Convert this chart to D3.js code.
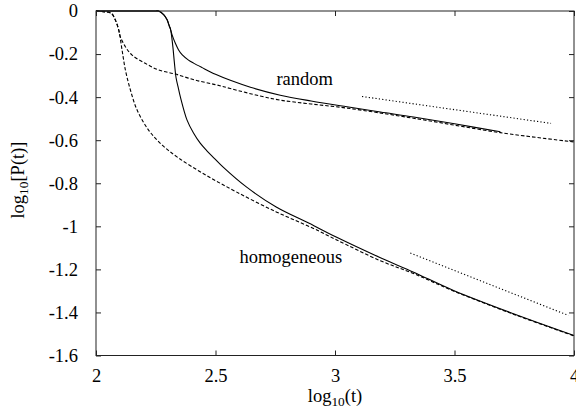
<!DOCTYPE html>
<html>
<head>
<meta charset="utf-8">
<script src="https://cdn.jsdelivr.net/npm/d3@7"></script>
<style>
  html, body { margin: 0; padding: 0; background: #fff; }
  svg { display: block; }
  text { font-family: "Liberation Serif", "Times New Roman", "DejaVu Serif", serif; fill: #000; }
</style>
</head>
<body>
<svg id="chart" width="576" height="413"></svg>
<script>
// ---- data (log10 t, log10 P(t)) ----
const xTicks = [2, 2.5, 3, 3.5, 4];
const xTickLabels = ["2", "2.5", "3", "3.5", "4"];
const yTicks = [0, -0.2, -0.4, -0.6, -0.8, -1, -1.2, -1.4, -1.6];
const yTickLabels = ["0", "-0.2", "-0.4", "-0.6", "-0.8", "-1", "-1.2", "-1.4", "-1.6"];

// random, solid
const randomSolidT = [2.0, 2.15, 2.25, 2.262, 2.283, 2.297, 2.307, 2.311, 2.318, 2.332, 2.345, 2.36, 2.387, 2.408, 2.444, 2.50, 2.562, 2.646, 2.771, 2.90, 3.05, 3.19, 3.329, 3.50, 3.692];
const randomSolidP = [0, 0, 0, 0, -0.017, -0.040, -0.071, -0.082, -0.110, -0.150, -0.180, -0.203, -0.228, -0.242, -0.263, -0.294, -0.322, -0.354, -0.391, -0.418, -0.445, -0.469, -0.492, -0.524, -0.561];

// homogeneous, solid
const homoSolidT = [2.0, 2.15, 2.25, 2.262, 2.283, 2.297, 2.307, 2.311, 2.315, 2.322, 2.328, 2.335, 2.345, 2.353, 2.381, 2.408, 2.436, 2.462, 2.495, 2.531, 2.629, 2.754, 2.892, 3.005, 3.19, 3.329, 3.496, 3.747, 4.0];
const homoSolidP = [0, 0, 0, 0, -0.017, -0.040, -0.071, -0.082, -0.105, -0.170, -0.240, -0.310, -0.360, -0.399, -0.507, -0.567, -0.614, -0.647, -0.684, -0.724, -0.817, -0.910, -0.986, -1.050, -1.146, -1.213, -1.298, -1.406, -1.507];

// random, dashed
const randomDashT = [2.0, 2.03, 2.064, 2.081, 2.095, 2.102, 2.123, 2.151, 2.206, 2.262, 2.332, 2.415, 2.50, 2.562, 2.687, 2.771, 2.90, 3.05, 3.328, 3.692, 4.0];
const randomDashP = [0, -0.003, -0.011, -0.042, -0.088, -0.120, -0.166, -0.205, -0.243, -0.274, -0.293, -0.321, -0.342, -0.360, -0.395, -0.414, -0.432, -0.451, -0.498, -0.565, -0.608];

// homogeneous, dashed
const homoDashT = [2.0, 2.03, 2.064, 2.081, 2.095, 2.109, 2.123, 2.144, 2.172, 2.22, 2.277, 2.346, 2.461, 2.587, 2.754, 2.908, 3.005, 3.19, 3.328, 3.495, 3.746, 4.0];
const homoDashP = [0, -0.003, -0.011, -0.042, -0.088, -0.181, -0.274, -0.367, -0.460, -0.553, -0.623, -0.683, -0.763, -0.840, -0.933, -1.009, -1.062, -1.160, -1.219, -1.300, -1.408, -1.509];

// dotted reference slopes
const randomRefT = [3.113, 3.904];
const randomRefP = [-0.397, -0.522];
const homoRefT = [3.315, 3.977];
const homoRefP = [-1.124, -1.414];

const labels = [
  { text: "random", t: 2.755, p: -0.345 },
  { text: "homogeneous", t: 2.6, p: -1.17 }
];

// ---- drawing ----
const svg = d3.select("#chart");
const mLeft = 96, mRight = 574, mTop = 11, mBottom = 355.5;
const x = d3.scaleLinear().domain([2, 4]).range([mLeft, mRight]);
const y = d3.scaleLinear().domain([-1.6, 0]).range([mBottom, mTop]);
const fs = 18.5;
const serif = '"Liberation Serif", "Times New Roman", "DejaVu Serif", serif';

const zip = (a, b) => a.map((v, i) => [v, b[i]]);
const line = d3.line().x(d => x(d[0])).y(d => y(d[1])).curve(d3.curveCatmullRom.alpha(0.5));

const plot = svg.append("g");
const series = [
  { d: zip(randomDashT, randomDashP), dash: "3.5,2" },
  { d: zip(homoDashT, homoDashP), dash: "3.5,2" },
  { d: zip(randomSolidT, randomSolidP), dash: null },
  { d: zip(homoSolidT, homoSolidP), dash: null },
  { d: zip(randomRefT, randomRefP), dash: "1.2,2.2" },
  { d: zip(homoRefT, homoRefP), dash: "1.2,2.2" }
];
series.forEach(s => {
  plot.append("path")
    .attr("d", line(s.d))
    .attr("fill", "none")
    .attr("stroke", "#000")
    .attr("stroke-width", 1.1)
    .attr("stroke-dasharray", s.dash);
});

// frame
svg.append("rect")
  .attr("x", mLeft).attr("y", mTop)
  .attr("width", mRight - mLeft).attr("height", mBottom - mTop)
  .attr("fill", "none").attr("stroke", "#222").attr("stroke-width", 1);

// axes
const tl = 5;
const xAxisB = d3.axisBottom(x).tickValues(xTicks).tickFormat((d, i) => xTickLabels[i]).tickSize(-tl).tickPadding(20);
const gx = svg.append("g").attr("transform", `translate(0,${mBottom})`).call(xAxisB);
const xAxisT = d3.axisTop(x).tickValues(xTicks).tickFormat("").tickSize(-tl);
const gxt = svg.append("g").attr("transform", `translate(0,${mTop})`).call(xAxisT);
const yAxisL = d3.axisLeft(y).tickValues(yTicks).tickFormat((d, i) => yTickLabels[i]).tickSize(-tl).tickPadding(18);
const gy = svg.append("g").attr("transform", `translate(${mLeft},0)`).call(yAxisL);
const yAxisR = d3.axisRight(y).tickValues(yTicks).tickFormat("").tickSize(-tl);
const gyr = svg.append("g").attr("transform", `translate(${mRight},0)`).call(yAxisR);

[gx, gxt, gy, gyr].forEach(g => {
  g.attr("font-family", null);
  g.select(".domain").remove();
  g.selectAll(".tick line").attr("stroke", "#222");
  g.selectAll("text").style("font-family", serif).attr("font-size", fs).attr("fill", "#000");
});
gx.selectAll(".tick text").attr("dy", null).attr("y", 26);

// curve labels
labels.forEach(l => {
  svg.append("text")
    .attr("x", x(l.t)).attr("y", y(l.p))
    .style("font-family", serif)
    .attr("font-size", fs)
    .text(l.text);
});

// axis titles
const xt = svg.append("text")
  .attr("x", 335).attr("y", 402)
  .attr("text-anchor", "middle")
  .style("font-family", serif)
  .attr("font-size", fs);
xt.append("tspan").text("log");
xt.append("tspan").attr("font-size", fs * 0.72).attr("dy", 4).text("10");
xt.append("tspan").attr("dy", -4).text("(t)");

const yt = svg.append("text")
  .attr("transform", "translate(24,180) rotate(-90)")
  .attr("text-anchor", "middle")
  .style("font-family", serif)
  .attr("font-size", fs);
yt.append("tspan").text("log");
yt.append("tspan").attr("font-size", fs * 0.72).attr("dy", 4).text("10");
yt.append("tspan").attr("dy", -4).text("[P(t)]");
</script>
</body>
</html>
